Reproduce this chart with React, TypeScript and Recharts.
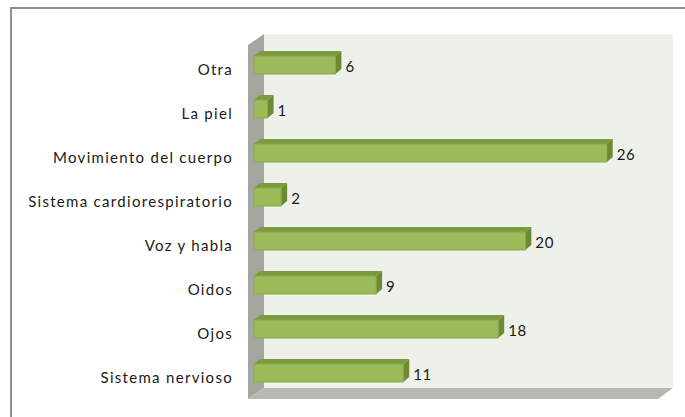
import { BarChart, Bar, XAxis, YAxis, ReferenceArea, LabelList } from "recharts";

const categories = [
  "Otra",
  "La piel",
  "Movimiento del cuerpo",
  "Sistema cardiorespiratorio",
  "Voz y habla",
  "Oidos",
  "Ojos",
  "Sistema nervioso",
];
const counts = [6, 1, 26, 2, 20, 9, 18, 11];

const data = categories.map((name, i) => ({ name, value: counts[i] }));

const FONT = "Lato, 'Open Sans', sans-serif";

// 3D box for each bar: front face, top face, side face
function Box3D(props: any) {
  const { x, y, width, height } = props;
  const dx = 6;
  const dy = 5;
  const x1 = x + width;
  return (
    <g>
      <polygon
        points={`${x},${y} ${x + dx},${y - dy} ${x1 + dx},${y - dy} ${x1},${y}`}
        fill="#7a9a40"
      />
      <polygon
        points={`${x1},${y} ${x1 + dx},${y - dy} ${x1 + dx},${y + height - dy} ${x1},${y + height}`}
        fill="#6b8a33"
      />
      <rect x={x} y={y} width={width} height={height} fill="#9bbb59" stroke="#8aab4a" strokeWidth={1} />
    </g>
  );
}

// side wall, back wall and floor behind the bars
function Walls(props: any) {
  const { x, y, width, height } = props;
  const bx = x + 10;
  const bt = y - 9;
  const bb = y + height - 7;
  const br = x + width + 12;
  const fx = x - 6;
  const fb = y + height + 4;
  return (
    <g>
      <rect x={bx} y={bt} width={br - bx} height={bb - bt} fill="#eef0ea" />
      <polygon points={`${fx},${bt + 11} ${bx},${bt} ${bx},${bb} ${fx},${fb}`} fill="#a5a6a1" />
      <polygon points={`${fx},${fb} ${bx},${bb} ${br},${bb} ${br - 15},${fb}`} fill="#b6b8b1" />
    </g>
  );
}

function CategoryTick(props: any) {
  const { y, payload } = props;
  return (
    <text
      x={233}
      y={y}
      dy={10}
      textAnchor="end"
      fontFamily={FONT}
      fontSize={15}
      letterSpacing={1.3}
      fill="#1a1a1a"
    >
      {payload.value}
    </text>
  );
}

function ValueLabel(props: any) {
  const { x, y, width, height, value } = props;
  return (
    <text
      x={x + width + 10}
      y={y + height / 2}
      dy={7}
      fontFamily={FONT}
      fontSize={15}
      letterSpacing={0.6}
      fill="#1a1a1a"
    >
      {value}
    </text>
  );
}

export default function App() {
  return (
    <div style={{ position: "absolute", left: 0, top: 0, width: 685, height: 417, background: "#fff", overflow: "hidden" }}>
      <div
        style={{
          position: "absolute",
          left: 10,
          top: 7,
          width: 700,
          height: 440,
          border: "2px solid #8e8e8e",
          boxSizing: "border-box",
        }}
      />
      <div style={{ position: "absolute", left: 0, top: 0 }}>
        <BarChart
          width={685}
          height={417}
          data={data}
          layout="vertical"
          margin={{ top: 43, right: 24, bottom: 22, left: 0 }}
          barSize={18}
        >
          <XAxis type="number" domain={[0, 30]} hide />
          <YAxis
            type="category"
            dataKey="name"
            width={254}
            axisLine={false}
            tickLine={false}
            tick={<CategoryTick />}
            interval={0}
          />
          <ReferenceArea x1={0} x2={30} shape={<Walls />} ifOverflow="visible" />
          <Bar dataKey="value" shape={<Box3D />} isAnimationActive={false}>
            <LabelList dataKey="value" content={<ValueLabel />} />
          </Bar>
        </BarChart>
      </div>
    </div>
  );
}
